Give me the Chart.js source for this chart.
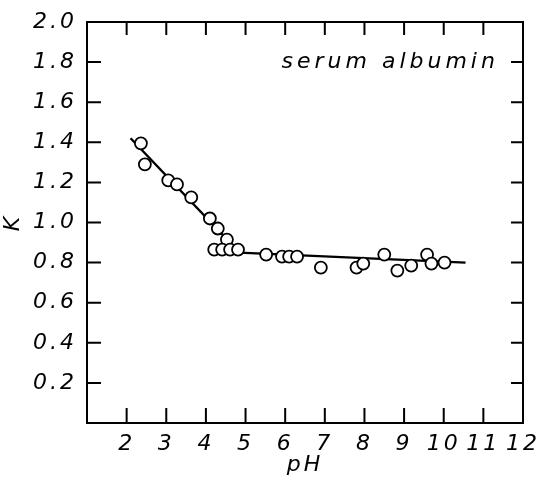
<!DOCTYPE html>
<html>
<head>
<meta charset="utf-8">
<script src="https://cdn.jsdelivr.net/npm/chart.js@4/dist/chart.umd.min.js"></script>
<style>
  html, body { margin: 0; padding: 0; background: #fff; }
  #wrap { width: 538px; height: 478px; }
</style>
</head>
<body>
<div id="wrap"><canvas id="plot"></canvas></div>
<script>
// measured points, K vs pH
const phValues = [2.36, 2.46, 3.05, 3.27, 3.63, 4.10, 4.30, 4.53, 4.21, 4.41, 4.61, 4.81,
                  5.52, 5.92, 6.10, 6.30, 6.90, 7.80, 7.97, 8.50, 8.83, 9.18, 9.58, 9.69, 10.02];
const kValues  = [1.395, 1.29, 1.21, 1.19, 1.125, 1.02, 0.97, 0.915, 0.865, 0.865, 0.865, 0.865,
                  0.84, 0.83, 0.83, 0.83, 0.775, 0.775, 0.795, 0.84, 0.76, 0.785, 0.84, 0.795, 0.80];
// drawn fit line
const fitPh = [2.1, 4.85, 10.55];
const fitK  = [1.42, 0.85, 0.80];
const xTicks = [2, 3, 4, 5, 6, 7, 8, 9, 10, 11];
const yTicks = [0.2, 0.4, 0.6, 0.8, 1.0, 1.2, 1.4, 1.6, 1.8];
const noteText = 'serum albumin';

const FONT = 'DejaVu Sans';

const spacing = {
  id: 'spacing',
  beforeLayout(chart) { chart.ctx.letterSpacing = '3px'; },
  beforeDraw(chart) { chart.ctx.letterSpacing = '3px'; }
};

// frame, inward ticks on all four sides, and the note
const frame = {
  id: 'frame',
  afterDraw(chart) {
    const ctx = chart.ctx;
    const a = chart.chartArea;
    const xs = chart.scales.x, ys = chart.scales.y;
    ctx.save();
    ctx.strokeStyle = '#000';
    ctx.lineWidth = 2;
    ctx.strokeRect(a.left, a.top, a.right - a.left, a.bottom - a.top);
    ctx.beginPath();
    xTicks.forEach(v => {
      const px = xs.getPixelForValue(v);
      ctx.moveTo(px, a.bottom); ctx.lineTo(px, a.bottom - 15);
      ctx.moveTo(px, a.top); ctx.lineTo(px, a.top + 13);
    });
    yTicks.forEach(v => {
      const py = ys.getPixelForValue(v);
      ctx.moveTo(a.left, py); ctx.lineTo(a.left + 14, py);
      ctx.moveTo(a.right, py); ctx.lineTo(a.right - 12, py);
    });
    ctx.stroke();
    ctx.letterSpacing = '4px';
    ctx.font = 'italic 22px "' + FONT + '"';
    ctx.fillStyle = '#000';
    ctx.textAlign = 'center';
    ctx.textBaseline = 'middle';
    ctx.fillText(noteText, xs.getPixelForValue(8.65), ys.getPixelForValue(1.8));
    ctx.restore();
  }
};

const ctx = document.getElementById('plot').getContext('2d');
new Chart(ctx, {
  type: 'scatter',
  data: {
    datasets: [
      {
        data: phValues.map((x, i) => ({ x: x, y: kValues[i] })),
        pointRadius: 6,
        pointBorderWidth: 1.8,
        pointBorderColor: '#000',
        pointBackgroundColor: '#fff',
        showLine: false
      },
      {
        data: fitPh.map((x, i) => ({ x: x, y: fitK[i] })),
        showLine: true,
        borderColor: '#000',
        borderWidth: 2.4,
        pointRadius: 0,
        fill: false
      }
    ]
  },
  options: {
    responsive: true,
    maintainAspectRatio: false,
    animation: false,
    layout: { padding: { left: 0, right: 0, top: 22, bottom: 0 } },
    plugins: { legend: { display: false }, tooltip: { enabled: false } },
    scales: {
      x: {
        type: 'linear', min: 1, max: 12,
        grid: { display: false, drawTicks: false },
        border: { display: false },
        ticks: {
          stepSize: 1, color: '#000', padding: 8, maxRotation: 0,
          font: { family: FONT, style: 'italic', size: 22 },
          callback: v => (v === 1 ? '' : String(v))
        },
        title: {
          display: true, text: 'pH', color: '#000', padding: { top: -6, bottom: 0 },
          font: { family: FONT, style: 'italic', size: 22 }
        },
        afterFit: s => { s.height = 55; s.paddingRight = 15; s.paddingLeft = 0; }
      },
      y: {
        type: 'linear', min: 0, max: 2,
        grid: { display: false, drawTicks: false },
        border: { display: false },
        ticks: {
          stepSize: 0.2, color: '#000', padding: 10,
          font: { family: FONT, style: 'italic', size: 22 },
          callback: v => (Math.abs(v) < 1e-9 ? '' : v.toFixed(1))
        },
        title: {
          display: true, text: 'K', color: '#000', padding: { top: 0, bottom: 0 },
          font: { family: FONT, style: 'italic', size: 22 }
        },
        afterFit: s => { s.width = 87; s.paddingTop = 0; s.paddingBottom = 0; }
      }
    }
  },
  plugins: [spacing, frame]
});
</script>
</body>
</html>
